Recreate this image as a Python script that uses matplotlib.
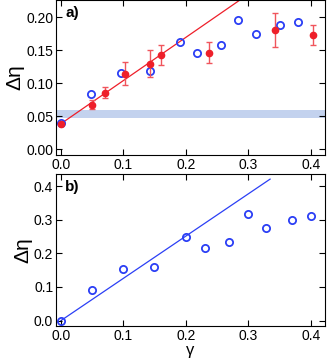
import matplotlib
matplotlib.use("Agg")
import matplotlib.pyplot as plt
import numpy as np

plt.rcParams['font.family'] = ['Liberation Sans', 'DejaVu Sans']

# panel a) open circles
a_open_x = [0.0, 0.0475, 0.0956, 0.143, 0.1906, 0.218, 0.256, 0.284, 0.313, 0.351, 0.379]
a_open_y = [0.039, 0.084, 0.116, 0.1185, 0.162, 0.146, 0.158, 0.1955, 0.175, 0.188, 0.193]

# panel a) filled points with error bars
a_fill_x = [0.0, 0.050, 0.071, 0.1025, 0.143, 0.161, 0.237, 0.343, 0.404]
a_fill_y = [0.0385, 0.0674, 0.0856, 0.1145, 0.1297, 0.143, 0.146, 0.181, 0.173]
a_fill_err = [0.0, 0.007, 0.008, 0.017, 0.021, 0.015, 0.016, 0.0256, 0.0155]

# panel a) fit line and band
a_fit = (0.0385, 0.654)   # intercept, slope
a_band = (0.047, 0.059)

# panel b) open circles
b_x = [0.0, 0.050, 0.100, 0.149, 0.200, 0.230, 0.269, 0.299, 0.329, 0.370, 0.400]
b_y = [0.0, 0.091, 0.154, 0.160, 0.248, 0.216, 0.234, 0.316, 0.275, 0.300, 0.311]
b_fit = (0.0, 1.257)

blue = '#2b3ff5'
red = '#ee1f2a'

fig = plt.figure(figsize=(3.27, 3.59), dpi=100)
ax1 = fig.add_axes([0.171, 0.568, 0.823, 0.432])
ax2 = fig.add_axes([0.171, 0.092, 0.823, 0.423])

# --- a)
ax1.axhspan(a_band[0], a_band[1], color='#c3d2ee', lw=0, zorder=0)
xs = np.array([0.0, 0.3])
ax1.plot(xs, a_fit[0] + a_fit[1]*xs, color=red, lw=0.9, zorder=1)
ax1.errorbar(a_fill_x, a_fill_y, yerr=a_fill_err, fmt='o', color=red,
             ecolor='#f0555c', ms=4.5, elinewidth=1.0, capsize=2.2, capthick=1.0, zorder=3)
ax1.plot(a_open_x, a_open_y, 'o', mfc='none', mec=blue, ms=5.2, mew=1.3, zorder=2)
ax1.set_xlim(-0.008, 0.423)
ax1.set_ylim(-0.009, 0.226)
ax1.set_xticks([0.0, 0.1, 0.2, 0.3, 0.4])
ax1.set_yticks([0.0, 0.05, 0.10, 0.15, 0.20])
ax1.set_yticklabels(['0.00', '0.05', '0.10', '0.15', '0.20'])
ax1.set_ylabel('Δη', fontsize=15, labelpad=1)
ax1.text(0.06, 0.915, 'a)', transform=ax1.transAxes, fontsize=11, fontweight='bold',
         va='center', ha='center')

# --- b)
xs = np.array([0.0, 0.335])
ax2.plot(xs, b_fit[0] + b_fit[1]*xs, color=blue, lw=0.9, zorder=1)
ax2.plot(b_x, b_y, 'o', mfc='none', mec=blue, ms=5.2, mew=1.3, zorder=2)
ax2.set_xlim(-0.008, 0.423)
ax2.set_ylim(-0.016, 0.436)
ax2.set_xticks([0.0, 0.1, 0.2, 0.3, 0.4])
ax2.set_yticks([0.0, 0.1, 0.2, 0.3, 0.4])
ax2.set_ylabel('Δη', fontsize=15, labelpad=1)
ax2.set_xlabel('γ', fontsize=12, labelpad=0)
ax2.text(0.06, 0.915, 'b)', transform=ax2.transAxes, fontsize=11, fontweight='bold',
         va='center', ha='center')

for ax in (ax1, ax2):
    ax.tick_params(direction='in', top=True, right=True, length=4, width=0.8,
                   labelsize=10, pad=2)
    for s in ax.spines.values():
        s.set_linewidth(0.8)

fig.savefig('out.png', dpi=100)
